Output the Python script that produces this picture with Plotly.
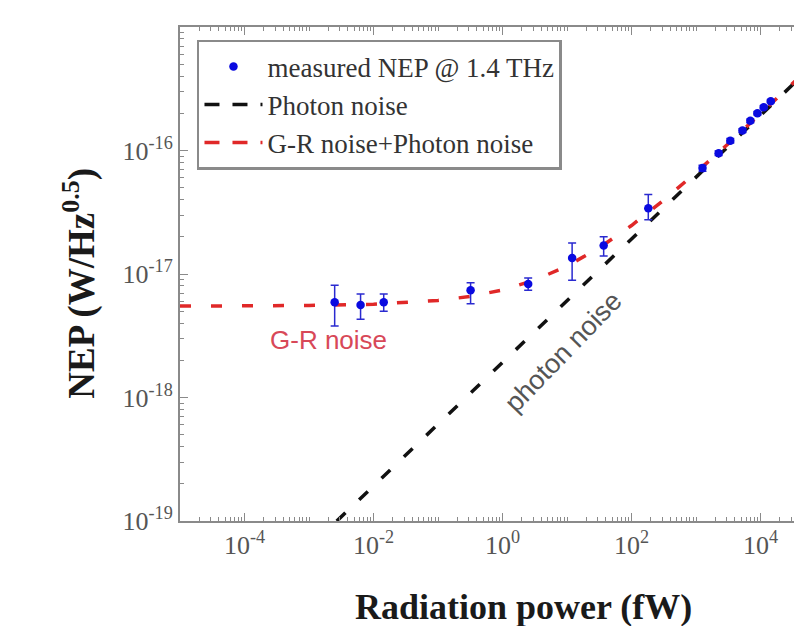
import plotly.graph_objects as go

# measured NEP @ 1.4 THz
power_fw = [2.5e-3, 6.3e-3, 1.44e-2, 0.32, 2.5, 12, 37, 182,
            1260, 2240, 3400, 5250, 6950, 8950, 11200, 14400]
nep = [5.9e-18, 5.6e-18, 5.9e-18, 7.4e-18, 8.3e-18, 1.35e-17, 1.7e-17, 3.4e-17,
       7.2e-17, 9.5e-17, 1.2e-16, 1.45e-16, 1.74e-16, 2.0e-16, 2.24e-16, 2.5e-16]
nep_upper = [8.1e-18, 6.9e-18, 6.9e-18, 8.5e-18, 9.3e-18, 1.78e-17, 2.0e-17, 4.4e-17,
             7.6e-17, 9.9e-17, 1.25e-16, 1.5e-16, 1.8e-16, 2.06e-16, 2.3e-16, 2.56e-16]
nep_lower = [3.8e-18, 4.3e-18, 5.0e-18, 5.75e-18, 7.4e-18, 8.9e-18, 1.4e-17, 2.75e-17,
             6.8e-17, 9.1e-17, 1.15e-16, 1.4e-16, 1.68e-16, 1.94e-16, 2.18e-16, 2.44e-16]

# photon noise line (straight in log-log)
photon_x = [1e-5, 1e5]
photon_y = [6.08e-21, 6.08e-16]

# G-R noise + photon noise curve
gr_x = [1e-5, 1e-3, 1e-2, 1e-1, 0.316, 1, 3.16, 10, 31.6, 100, 316, 1000, 3160, 1e4, 4.5e4, 1e5]
gr_y = [5.5e-18, 5.56e-18, 5.69e-18, 6.11e-18, 6.58e-18, 7.42e-18, 8.92e-18, 1.158e-17,
        1.63e-17, 2.47e-17, 3.97e-17, 6.63e-17, 1.135e-16, 1.975e-16, 4.13e-16, 6.13e-16]

series_names = ["measured NEP @ 1.4 THz", "Photon noise", "G-R noise+Photon noise"]

x_tickvals = [1e-4, 1e-2, 1, 1e2, 1e4]
x_ticktext = ["10<sup>-4</sup>", "10<sup>-2</sup>", "10<sup>0</sup>", "10<sup>2</sup>", "10<sup>4</sup>"]
y_tickvals = [1e-19, 1e-18, 1e-17, 1e-16]
y_ticktext = ["10<sup>-19</sup>", "10<sup>-18</sup>", "10<sup>-17</sup>", "10<sup>-16</sup>"]

x_minor = [m * 10.0 ** e for e in range(-5, 5) for m in range(1, 10) if not (m == 1 and e % 2 == 0)]
y_minor = [m * 10.0 ** e for e in range(-19, -15) for m in range(2, 10)]

BLUE = "#0a0ae0"
BLACK = "#111111"
RED = "#e02828"

fig = go.Figure()
fig.add_trace(go.Scatter(
    x=photon_x, y=photon_y, mode="lines", showlegend=False,
    line=dict(color=BLACK, width=3.5, dash="12px,19px"),
))
fig.add_trace(go.Scatter(
    x=gr_x, y=gr_y, mode="lines", showlegend=False,
    line=dict(color=RED, width=3.5, dash="11px,20px"),
))
fig.add_trace(go.Scatter(
    x=power_fw, y=nep, mode="markers", name=series_names[0], legendrank=1,
    marker=dict(color=BLUE, size=8.5),
    error_y=dict(type="data", symmetric=False,
                 array=[u - v for u, v in zip(nep_upper, nep)],
                 arrayminus=[v - l for v, l in zip(nep, nep_lower)],
                 color="#2a2ad0", thickness=1.5, width=4),
))
# legend entries for the dashed lines (legend-only, longer dashes like the reference key)
fig.add_trace(go.Scatter(
    x=[None], y=[None], mode="lines", name=series_names[1], legendrank=2,
    line=dict(color=BLACK, width=3.5, dash="15px,13px"),
))
fig.add_trace(go.Scatter(
    x=[None], y=[None], mode="lines", name=series_names[2], legendrank=3,
    line=dict(color=RED, width=3.5, dash="15px,13px"),
))

axis_common = dict(showline=True, linecolor="#8a8a8a", linewidth=2, showgrid=False,
                   zeroline=False, ticks="inside", tickcolor="#8a8a8a", ticklen=8,
                   automargin=False,
                   tickfont=dict(family="Liberation Serif", size=26, color="#555555"))

fig.update_xaxes(type="log", range=[-5, 4.643], tickvals=x_tickvals, ticktext=x_ticktext,
                 mirror="ticks",
                 minor=dict(tickvals=x_minor, ticks="inside", ticklen=4, tickcolor="#8a8a8a"),
                 **axis_common)
fig.update_yaxes(type="log", range=[-19, -15], tickvals=y_tickvals, ticktext=y_ticktext,
                 minor=dict(tickvals=y_minor, ticks="inside", ticklen=4, tickcolor="#8a8a8a"),
                 **axis_common)

fig.update_layout(
    width=794, height=618,
    margin=dict(l=172, r=0, t=19, b=105, autoexpand=False),
    plot_bgcolor="white", paper_bgcolor="white",
    legend=dict(x=0.0273, y=0.974, xanchor="left", yanchor="top",
                bordercolor="#8a8a8a", borderwidth=2.5, bgcolor="white",
                traceorder="normal", itemwidth=58,
                font=dict(family="Liberation Serif", size=27, color="#333333")),
    showlegend=True,
    annotations=[
        dict(text="<b>Radiation power (fW)</b>", xref="paper", yref="paper",
             x=0.553, y=-0.174, xanchor="center", yanchor="middle", showarrow=False,
             font=dict(family="Liberation Serif", size=36, color="#1a1a1a")),
        dict(text="<b>NEP (W/Hz<sup>0.5</sup>)</b>", xref="paper", yref="paper",
             x=-0.161, y=0.482, xanchor="center", yanchor="middle", showarrow=False,
             textangle=-90,
             font=dict(family="Liberation Serif", size=37, color="#1a1a1a")),
        dict(text="G-R noise", xref="paper", yref="paper", x=0.238, y=0.366,
             xanchor="center", yanchor="middle", showarrow=False,
             font=dict(family="Liberation Sans", size=26, color="#d84858")),
        dict(text="photon noise", xref="paper", yref="paper", x=0.616, y=0.342,
             xanchor="center", yanchor="middle", showarrow=False, textangle=-46,
             font=dict(family="Liberation Sans", size=27, color="#555555")),
    ],
)

fig.write_html("out.html")
